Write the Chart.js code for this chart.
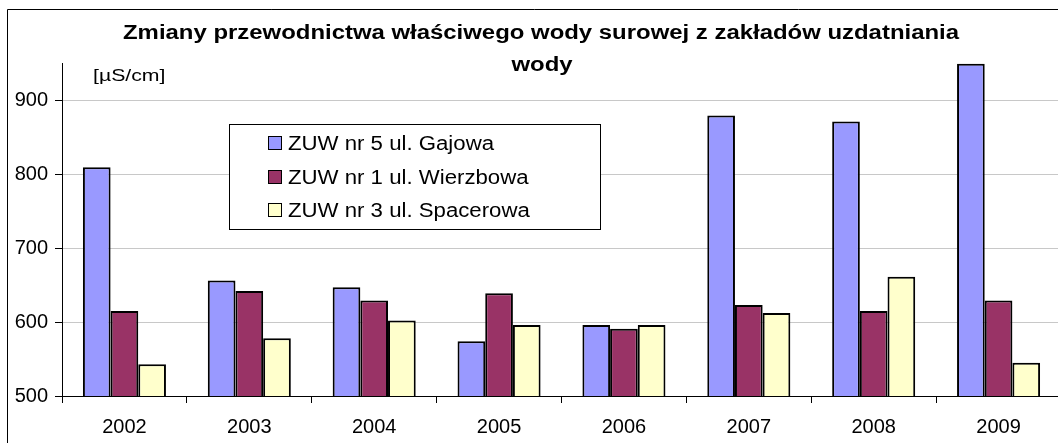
<!DOCTYPE html>
<html lang="pl">
<head>
  <meta charset="UTF-8">
  <title>Zmiany przewodnictwa właściwego wody surowej</title>
  <script src="https://cdn.jsdelivr.net/npm/chart.js"></script>
  <style>
    body {
      margin: 0;
      background: #fff;
      overflow: hidden;
    }
    #wrap {
      width: 1058px;
      height: 443px;
      position: relative;
      overflow: hidden;
    }
  </style>
</head>
<body>
  <div id="wrap">
    <canvas id="chart" width="1062" height="443"></canvas>
  </div>

  <script>
    // dane
    const years = ['2002', '2003', '2004', '2005', '2006', '2007', '2008', '2009'];
    const gajowa = [809, 656, 647, 574, 596, 879, 871, 949];
    const wierzbowa = [615, 642, 629, 639, 591, 623, 615, 629];
    const spacerowa = [543, 578, 602, 596, 596, 612, 661, 545];
    const seriesNames = ['ZUW nr 5 ul. Gajowa', 'ZUW nr 1 ul. Wierzbowa', 'ZUW nr 3 ul. Spacerowa'];
    const seriesColors = ['#9999ff', '#993366', '#ffffcc'];
    const yTicks = [500, 600, 700, 800, 900];

    const FONT = '"Liberation Sans", Arial, sans-serif';
    const titleLines = ['Zmiany przewodnictwa właściwego wody surowej z zakładów uzdatniania', 'wody'];

    // tekst rozciągnięty w poziomie (oryginał jest nieco szerszy)
    function stretchedText(ctx, text, x, y, sx) {
      ctx.save();
      ctx.translate(x, y);
      ctx.scale(sx, 1);
      ctx.fillText(text, 0, 0);
      ctx.restore();
    }

    // ramka, tytuł, jednostka i legenda w ramce
    const decorations = {
      id: 'decorations',
      afterDraw(chart) {
        const ctx = chart.ctx;
        ctx.save();
        // ramka wykresu
        ctx.strokeStyle = '#000';
        ctx.lineWidth = 1;
        ctx.beginPath();
        ctx.moveTo(7.5, 443);
        ctx.lineTo(7.5, 9.5);
        ctx.lineTo(1062, 9.5);
        ctx.stroke();

        // tytuł
        ctx.fillStyle = '#000';
        ctx.font = 'bold 20px ' + FONT;
        ctx.textAlign = 'center';
        ctx.textBaseline = 'alphabetic';
        const sx = 836 / ctx.measureText(titleLines[0]).width;
        stretchedText(ctx, titleLines[0], 541, 39, sx);
        stretchedText(ctx, titleLines[1], 542, 71, sx);

        // jednostka
        ctx.font = '17px ' + FONT;
        ctx.textAlign = 'left';
        ctx.textBaseline = 'middle';
        stretchedText(ctx, '[µS/cm]', 93, 76, 1.25);

        // legenda
        ctx.fillStyle = '#fff';
        ctx.fillRect(229, 124, 372, 105);
        ctx.strokeStyle = '#000';
        ctx.strokeRect(229.5, 124.5, 371, 105);
        ctx.font = '20px ' + FONT;
        const rows = [143, 177, 210];
        chart.data.datasets.forEach((ds, i) => {
          ctx.fillStyle = ds.backgroundColor;
          ctx.fillRect(268, rows[i] - 7, 14, 14);
          ctx.strokeStyle = '#000';
          ctx.strokeRect(268.5, rows[i] - 6.5, 13, 13);
          ctx.fillStyle = '#000';
          stretchedText(ctx, ds.label, 288, rows[i] + 1, 1.11);
        });
        ctx.restore();
      }
    };

    const datasets = [gajowa, wierzbowa, spacerowa].map((values, i) => ({
      label: seriesNames[i],
      data: values,
      backgroundColor: seriesColors[i],
      borderColor: '#000',
      borderWidth: 2,
      barPercentage: 1,
      categoryPercentage: 0.665
    }));

    new Chart(document.getElementById('chart'), {
      type: 'bar',
      data: { labels: years, datasets: datasets },
      options: {
        responsive: false,
        animation: false,
        layout: { padding: { top: 63, right: 1, left: 0, bottom: 0 } },
        plugins: {
          legend: { display: false },
          title: { display: false },
          tooltip: { enabled: false }
        },
        scales: {
          x: {
            grid: {
              offset: true,
              drawOnChartArea: false,
              drawTicks: true,
              tickLength: 7,
              color: '#000'
            },
            border: { color: '#000', width: 1 },
            ticks: {
              color: '#000',
              font: { family: FONT, size: 20 },
              padding: 12
            },
            afterFit(scale) { scale.height = 47; }
          },
          y: {
            min: 500,
            max: 950,
            afterBuildTicks(scale) {
              scale.ticks = yTicks.map(v => ({ value: v }));
            },
            grid: {
              color: '#c8c8c8',
              tickColor: '#000',
              tickLength: 7
            },
            border: { color: '#000', width: 1 },
            ticks: {
              color: '#000',
              font: { family: FONT, size: 20 },
              padding: 7
            },
            afterFit(scale) { scale.width = 62; }
          }
        }
      },
      plugins: [decorations]
    });
  </script>
</body>
</html>
